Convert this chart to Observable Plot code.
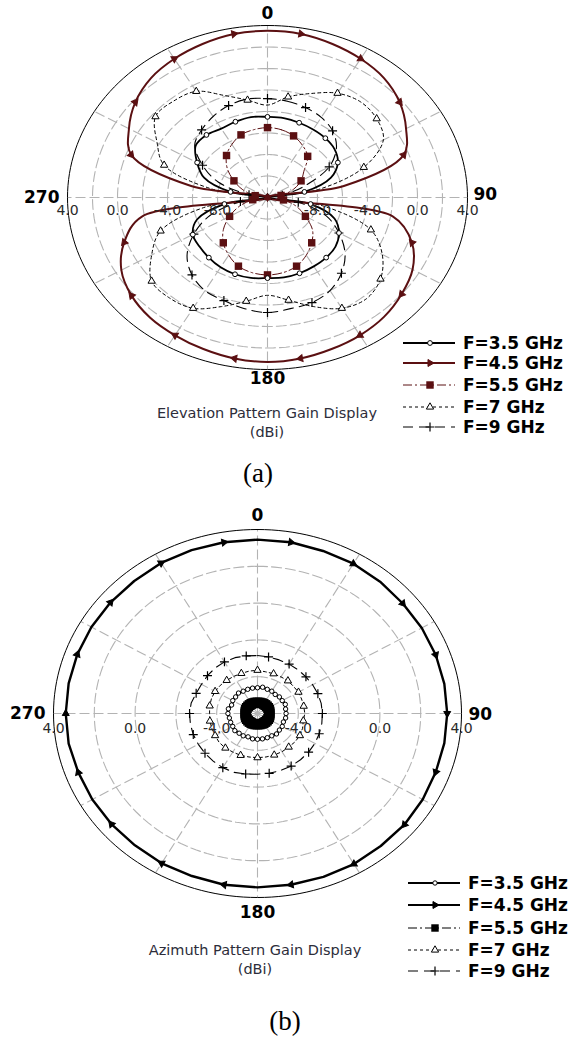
<!DOCTYPE html>
<html><head><meta charset="utf-8">
<script src="https://cdn.jsdelivr.net/npm/d3@7"></script>
<script src="https://cdn.jsdelivr.net/npm/@observablehq/plot@0.6"></script>
<style>
body{margin:0;background:#fff;}
#wrap{width:571px;height:1037px;overflow:hidden;}
#wrap svg{display:block;}
</style></head><body><div id="wrap"><div id="ca"></div><div id="cb"></div></div>
<script>
// ---------- data ----------
const angles = [0,10,20,30,40,50,60,70,80,90,100,110,120,130,140,150,160,170,180,190,200,210,220,230,240,250,260,270,280,290,300,310,320,330,340,350];
const seriesNames = ["F=3.5 GHz","F=4.5 GHz","F=5.5 GHz","F=7 GHz","F=9 GHz"];

// (a) Elevation pattern gain (dBi)
const elev35 = [-4.5,-4.5,-4.6,-4.7,-4.8,-5.0,-5.5,-6.6,-9.0,-12,-8.5,-6.3,-5.4,-4.9,-4.7,-4.6,-4.5,-4.45,-4.5,-4.4,-4.4,-4.5,-4.7,-4.9,-5.1,-6.0,-8.5,-12,-9.0,-6.6,-5.5,-4.5,-4.4,-4.6,-4.5,-4.4];
const elev45 = [3.5,3.45,3.2,2.9,2.5,1.8,0.8,-0.4,-5.8,-12,-1.8,0.3,1.4,2.0,2.5,2.8,3.0,3.2,3.3,3.2,3.0,2.8,2.6,2.2,1.5,0.2,-1.8,-12,-5.8,-0.4,0.8,1.8,2.5,2.9,3.2,3.45];
const elev55 = [-5.5,-5.6,-5.9,-6.4,-7.0,-8.2,-8.9,-9.8,-10.9,-12,-10.7,-9.5,-8.5,-7.3,-6.5,-5.8,-5.2,-4.9,-4.8,-4.9,-5.2,-5.8,-6.5,-7.4,-8.5,-9.6,-10.8,-12,-11,-9.9,-8.9,-7.8,-6.9,-6.3,-5.8,-5.6];
const elev70 = [-3.4,-2.5,-1.7,-0.8,-0.4,-0.6,-1.3,-3.8,-8.0,-12,-7.5,-3.2,-1.4,-0.2,0.3,-0.1,-1.2,-2.3,-2.9,-2.2,-1.2,-0.1,0.2,0.1,-1.3,-2.9,-7.0,-12,-7.5,-3.2,-1.8,-0.3,-0.3,-0.6,-1.9,-2.8];
const elev90 = [-2.8,-2.9,-3.1,-3.4,-3.9,-4.8,-6.3,-8.8,-10.8,-12,-9.5,-7.0,-5.4,-3.9,-2.8,-2.0,-1.6,-1.5,-1.3,-1.5,-1.8,-2.0,-2.6,-3.6,-5.2,-7.1,-9.8,-12,-10.5,-7.8,-6.0,-4.4,-3.8,-3.3,-2.9,-2.7];

// (b) Azimuth pattern gain (dBi)
const azim35 = [-4.6,-4.55,-4.6,-4.6,-4.65,-4.6,-4.6,-4.55,-4.6,-4.6,-4.6,-4.65,-4.6,-4.6,-4.55,-4.6,-4.6,-4.6,-4.6,-4.6,-4.65,-4.6,-4.6,-4.55,-4.6,-4.6,-4.6,-4.55,-4.55,-4.65,-4.6,-4.6,-4.55,-4.6,-4.6,-4.6];
const azim45 = [3.45,3.45,3.4,3.4,3.35,3.3,3.3,3.3,3.3,3.3,3.3,3.3,3.35,3.4,3.4,3.45,3.45,3.45,3.45,3.45,3.4,3.4,3.35,3.35,3.35,3.35,3.4,3.4,3.4,3.4,3.4,3.4,3.4,3.45,3.45,3.45];
const azim55 = [-5.4,-5.4,-5.4,-5.4,-5.4,-5.4,-5.4,-5.4,-5.4,-5.4,-5.4,-5.4,-5.4,-5.4,-5.4,-5.4,-5.4,-5.4,-5.4,-5.4,-5.4,-5.4,-5.4,-5.4,-5.4,-5.4,-5.4,-5.4,-5.4,-5.4,-5.4,-5.4,-5.4,-5.4,-5.4,-5.4];
const azim70 = [-3.65,-3.7,-3.7,-3.7,-3.68,-3.7,-3.68,-3.7,-3.7,-3.68,-3.72,-3.65,-3.6,-3.6,-3.62,-3.6,-3.6,-3.6,-3.6,-3.6,-3.58,-3.58,-3.55,-3.55,-3.6,-3.62,-3.63,-3.65,-3.62,-3.6,-3.6,-3.62,-3.65,-3.67,-3.68,-3.66];
const azim90 = [-2.85,-2.88,-2.9,-2.9,-2.9,-2.9,-2.88,-2.85,-2.83,-2.82,-2.8,-2.78,-2.75,-2.73,-2.72,-2.7,-2.7,-2.7,-2.7,-2.66,-2.6,-2.6,-2.62,-2.64,-2.65,-2.65,-2.66,-2.67,-2.7,-2.8,-2.83,-2.8,-2.77,-2.76,-2.77,-2.82];

// axis labels
const cardinalAngles = [0, 90, 180, 270];
const cardinalLabels = ["0", "90", "180", "270"];
const elevTicks = [4, 0, -4, -8];
const azimTicks = [4, 0, -4];

// ---------- styling ----------
const maroon = "#5b1012";
const SANS = "DejaVu Sans, Verdana, sans-serif";
const stylesA = [
  {stroke:"#000", width:1.8, dash:null, symbol:"circle", fill:"#fff", r:2.4, sw:1, step:2, off:0},
  {stroke:maroon, width:2, dash:null, symbol:"triangle", fill:maroon, r:2.6, sw:1, step:2, off:1, rot:true},
  {stroke:maroon, width:1, dash:"9,3,2,3", symbol:"square", fill:maroon, r:4.2, sw:0, step:2, off:0},
  {stroke:"#000", width:1, dash:"3,3", symbol:"triangle", fill:"#fff", r:2.7, sw:1, step:2, off:1},
  {stroke:"#000", width:1.1, dash:"10,6", symbol:"plus", fill:"none", r:3, sw:1.2, step:2, off:0}
];
const stylesB = [
  {stroke:"#000", width:2.6, dash:null, symbol:"circle", fill:"#fff", r:2.2, sw:1, step:1, off:0},
  {stroke:"#000", width:2.4, dash:null, symbol:"triangle", fill:"#000", r:2.6, sw:1, step:2, off:1, rot:true},
  {stroke:"#000", width:1, dash:"9,3,2,3", symbol:"square", fill:"#000", r:5.6, sw:0, step:1, off:0},
  {stroke:"#000", width:1, dash:"3,3", symbol:"triangle", fill:"#fff", r:2.7, sw:1, step:2, off:0},
  {stroke:"#000", width:1.1, dash:"10,6", symbol:"plus", fill:"none", r:3, sw:1.2, step:2, off:1}
];
const symbolMap = {circle:d3.symbolCircle, triangle:d3.symbolTriangle, square:d3.symbolSquare, plus:d3.symbolPlus};

function polarChart(cfg) {
  const rad = d3.scaleLinear().domain([cfg.gmin, cfg.gmax]).range([0, 1]).clamp(true);
  const toRad = a => a * Math.PI / 180;
  const pts = (gains, k) => angles.map((a, i) => {
    const r = rad(gains[i]);
    return {k, i, theta:a, gain:gains[i], x:r*Math.sin(toRad(a)), y:r*Math.cos(toRad(a))};
  });
  const ringPts = [];
  cfg.rings.forEach(g => {
    for (let a = 0; a <= 360; a += 2) {
      const r = rad(g);
      ringPts.push({ring:g, x:r*Math.sin(toRad(a)), y:r*Math.cos(toRad(a))});
    }
  });
  const outer = ringPts.filter(d => d.ring === cfg.gmax);
  const inner = ringPts.filter(d => d.ring !== cfg.gmax);
  const spokes = [0,30,60,90,120,150,180,210,240,270,300,330];
  const marks = [
    Plot.line(inner, {x:"x", y:"y", z:"ring", stroke:"#b3b3b3", strokeWidth:1.1, strokeDasharray:"10,4"}),
    Plot.link(spokes, {x1:() => 0, y1:() => 0, x2:a => Math.sin(toRad(a)), y2:a => Math.cos(toRad(a)),
      stroke:"#b3b3b3", strokeWidth:1.1, strokeDasharray:"10,4"}),
    Plot.line(outer, {x:"x", y:"y", stroke:"#000", strokeWidth:1})
  ];
  const order = [4, 3, 2, 0, 1];
  order.forEach(k => {
    const s = cfg.styles[k];
    marks.push(Plot.line(pts(cfg.series[k], k), {x:"x", y:"y", stroke:s.stroke, strokeWidth:s.width,
      strokeDasharray:s.dash, curve:cfg.curve}));
  });
  order.forEach(k => {
    const s = cfg.styles[k];
    const data = pts(cfg.series[k], k).filter(d => d.i % s.step === s.off % s.step);
    const opts = {x:"x", y:"y", symbol:s.symbol, r:s.r, stroke:s.sw ? s.stroke : null, fill:s.fill, strokeWidth:s.sw};
    if (s.rot) opts.rotate = d => d.theta + 90;
    marks.push(Plot.dot(data, opts));
  });
  const tickFmt = d3.format(".1f");
  const lab = d => tickFmt(d).replace("\u2212", "-");
  marks.push(Plot.text(cfg.ticks, {x:d => -rad(d), y:() => 0, text:lab,
    dy:cfg.tickDy, fontSize:14, fontFamily:SANS, fill:"#2a2a2a"}));
  marks.push(Plot.text(cfg.ticks, {x:d => rad(d), y:() => 0, text:lab,
    dy:cfg.tickDy, fontSize:14, fontFamily:SANS, fill:"#2a2a2a"}));
  cardinalAngles.forEach((a, i) => {
    const o = cfg.cardOff[i];
    marks.push(Plot.text([cardinalLabels[i]], {x:() => Math.sin(toRad(a)), y:() => Math.cos(toRad(a)),
      text:d => d, dx:o[0], dy:o[1], textAnchor:o[2], fontSize:17, fontWeight:"bold", fontFamily:SANS, fill:"#000"}));
  });
  const svg = Plot.plot({
    width:571, height:cfg.height, margin:0,
    x:{domain:[-1,1], range:[cfg.cx - cfg.rx, cfg.cx + cfg.rx], axis:null},
    y:{domain:[-1,1], range:[cfg.cy + cfg.ry, cfg.cy - cfg.ry], axis:null},
    marks
  });
  // legend + captions
  const g = d3.select(svg).append("g").attr("text-anchor", "start");
  cfg.styles.forEach((s, k) => {
    const y = cfg.legY[k];
    g.append("line").attr("x1", cfg.legX[0]).attr("x2", cfg.legX[2]).attr("y1", y).attr("y2", y)
      .attr("stroke", s.stroke).attr("stroke-width", Math.min(s.width, 2)).attr("stroke-dasharray", s.dash);
    const rr = s.symbol === "square" ? Math.min(s.r, 4.2) : s.r;
    g.append("path").attr("d", d3.symbol(symbolMap[s.symbol], Math.PI*rr*rr)())
      .attr("transform", `translate(${cfg.legX[1]},${y}) rotate(${s.rot ? 90 : 0})`)
      .attr("fill", s.fill).attr("stroke", s.sw ? s.stroke : "none").attr("stroke-width", s.sw);
    g.append("text").attr("x", cfg.legX[3]).attr("y", y).attr("dy", "0.36em").attr("text-anchor", "start")
      .attr("font-family", SANS).attr("font-weight", "bold").attr("font-size", 17).attr("fill", "#000")
      .text(seriesNames[k]);
  });
  cfg.captions.forEach(c => {
    g.append("text").attr("x", c.x).attr("y", c.y).attr("dy", "0.36em").attr("text-anchor", "middle")
      .attr("font-family", c.serif ? "Liberation Serif, Times New Roman, serif" : SANS)
      .attr("font-size", c.size).attr("fill", c.serif ? "#000" : "#2d2d3a").text(c.text);
  });
  return svg;
}

const chartA = polarChart({
  gmin:-12, gmax:4, rings:[-10,-8,-6,-4,-2,0,2,4], ticks:elevTicks, tickDy:13,
  cx:267, cy:197, rx:200, ry:172, height:500, curve:"catmull-rom-closed",
  series:[elev35, elev45, elev55, elev70, elev90], styles:stylesA,
  cardOff:[[0,-12,"middle"],[6,-3,"start"],[0,9,"middle"],[-8,0,"end"]],
  legY:[343,363,385,407,427], legX:[403,430,455,463],
  captions:[
    {text:"Elevation Pattern Gain Display", x:267, y:413, size:14.5},
    {text:"(dBi)", x:267, y:432, size:14.5},
    {text:"(a)", x:258, y:472, size:27, serif:true}
  ]
});
const chartB = polarChart({
  gmin:-6, gmax:4, rings:[-4,-2,0,2,4], ticks:azimTicks, tickDy:15,
  cx:257, cy:213, rx:204, ry:184, height:537, curve:"linear-closed",
  series:[azim35, azim45, azim55, azim70, azim90], styles:stylesB,
  cardOff:[[0,-14,"middle"],[7,1,"start"],[0,15,"middle"],[-8,0,"end"]],
  legY:[383,405,428,450,471], legX:[408,435,460,468],
  captions:[
    {text:"Azimuth Pattern Gain Display", x:255, y:450, size:14.5},
    {text:"(dBi)", x:255, y:469, size:14.5},
    {text:"(b)", x:285, y:520, size:27, serif:true}
  ]
});
document.getElementById("ca").appendChild(chartA);
document.getElementById("cb").appendChild(chartB);
</script></body></html>
